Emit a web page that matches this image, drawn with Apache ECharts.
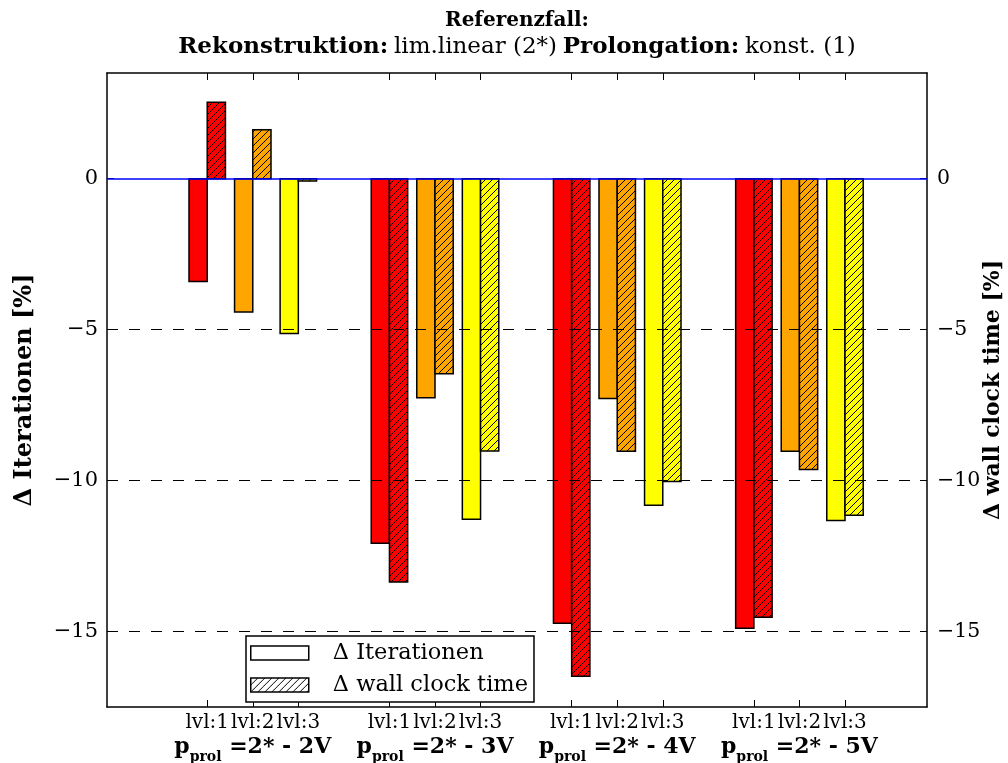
<!DOCTYPE html>
<html><head><meta charset="utf-8">
<script src="https://cdn.jsdelivr.net/npm/echarts@6/dist/echarts.min.js"></script>
<style>html,body{margin:0;padding:0;background:#fff}#c{width:1008px;height:763px}</style>
</head><body><div id="c"></div>
<script>
// ---- data ----
const groups = ['2V', '3V', '4V', '5V'];
const levels = ['lvl:1', 'lvl:2', 'lvl:3'];
const iterations = [
  [-3.41, -4.42, -5.13],
  [-12.08, -7.26, -11.28],
  [-14.73, -7.28, -10.82],
  [-14.89, -9.03, -11.32]
];
const wallclock = [
  [2.53, 1.62, -0.08],
  [-13.36, -6.46, -9.02],
  [-16.48, -9.03, -10.03],
  [-14.53, -9.63, -11.15]
];
const yTicks = [-15, -10, -5, 0];
const gridValues = [-15, -10, -5];

// ---- styles ----
const levelColors = ['#ff0000', '#ffa500', '#ffff00'];
const FONT = '"DejaVu Serif", "Liberation Serif", serif';
const FS = 21;
const BAR_W = 0.4;
const X0 = 2.2, GROUP_STEP = 4;

function hatch(bg) {
  const s = 7;
  const c = document.createElement('canvas');
  c.width = s; c.height = s;
  const g = c.getContext('2d');
  g.fillStyle = bg; g.fillRect(0, 0, s, s);
  g.strokeStyle = '#000'; g.lineWidth = 1;
  g.beginPath();
  g.moveTo(0, s); g.lineTo(s, 0);
  g.moveTo(-1, 1); g.lineTo(1, -1);
  g.moveTo(s - 1, s + 1); g.lineTo(s + 1, s - 1);
  g.stroke();
  return c;
}
const patterns = levelColors.map(c => ({ image: hatch(c), repeat: 'repeat' }));
const whitePattern = { image: hatch('#ffffff'), repeat: 'repeat' };

const tickPos = [], groupPos = [];
groups.forEach((g, gi) => {
  levels.forEach((l, li) => tickPos.push(+(X0 + GROUP_STEP * gi + li).toFixed(2)));
  groupPos.push(+(X0 + GROUP_STEP * gi + 1).toFixed(2));
});

const iterData = [], wallData = [];
groups.forEach((g, gi) => levels.forEach((l, li) => {
  const x = X0 + GROUP_STEP * gi + li;
  iterData.push([x, iterations[gi][li], li]);
  wallData.push([x, wallclock[gi][li], li]);
}));

function makeRender(isWall) {
  return function (params, api) {
    const x = api.value(0), y = api.value(1), lvl = api.value(2);
    const xa = isWall ? x : x - BAR_W, xb = isWall ? x + BAR_W : x;
    const p0 = api.coord([xa, 0]), p1 = api.coord([xb, y]);
    return {
      type: 'rect',
      shape: { x: p0[0], y: Math.min(p0[1], p1[1]), width: p1[0] - p0[0], height: Math.max(Math.abs(p1[1] - p0[1]), 1) },
      style: { fill: isWall ? patterns[lvl] : levelColors[lvl], stroke: '#000', lineWidth: 1.5 }
    };
  };
}

function minusFmt(v) { return String(v).replace('-', '\u2212'); }

function lvlLabel(v) {
  const i = Math.round(v - X0);
  const gi = Math.floor(i / GROUP_STEP), li = i % GROUP_STEP;
  if (gi < 0 || gi >= groups.length || li >= levels.length) return '';
  return levels[li];
}
function groupLabel(v) {
  const gi = Math.round((v - X0 - 1) / GROUP_STEP);
  if (gi < 0 || gi >= groups.length) return '';
  return '{p|p}{s|prol}{q| =2* - ' + groups[gi] + '}';
}

const axisLineStyle = { show: true, onZero: false, lineStyle: { color: '#000', width: 1.5 } };

const chart = echarts.init(document.getElementById('c'));
chart.setOption({
  animation: false,
  backgroundColor: '#fff',
  textStyle: { fontFamily: FONT },
  title: {
    left: 517, top: 7, textAlign: 'center', padding: 0,
    text: '{b|Referenzfall:}\n{b2|Rekonstruktion:} {r|lim.linear (2*)} {b2|Prolongation:} {r|konst. (1)}',
    textStyle: {
      fontWeight: 'normal',
      rich: {
        b: { fontFamily: FONT, fontSize: 20, fontWeight: 'bold', color: '#000', lineHeight: 27 },
        b2: { fontFamily: FONT, fontSize: 23, fontWeight: 'bold', color: '#000', lineHeight: 27 },
        r: { fontFamily: FONT, fontSize: 23, fontWeight: 'normal', color: '#000', lineHeight: 27 }
      }
    }
  },
  grid: { left: 107, right: 81, top: 73, bottom: 56, outerBoundsMode: 'none', containLabel: false },
  legend: {
    orient: 'vertical', left: 246, top: 636,
    icon: 'rect', itemWidth: 58, itemHeight: 14, itemGap: 6,
    padding: [4, 6, 4, 4],
    backgroundColor: '#fff', borderColor: '#000', borderWidth: 1.5,
    selectedMode: false,
    itemStyle: { borderColor: '#000', borderWidth: 1.5 },
    textStyle: { fontFamily: FONT, fontSize: 22.5, color: '#000', lineHeight: 26, padding: [0, 0, 0, 19] },
    data: ['\u0394 Iterationen', '\u0394 wall clock time']
  },
  xAxis: [{
    type: 'value', min: 0, max: 18, position: 'bottom',
    axisLine: axisLineStyle,
    axisTick: { show: true, inside: true, length: 7, customValues: tickPos, lineStyle: { color: '#000', width: 1 } },
    axisLabel: {
      show: true, customValues: tickPos, formatter: lvlLabel, margin: 4,
      showMinLabel: true, showMaxLabel: true, hideOverlap: false,
      fontFamily: FONT, fontSize: 20, color: '#000', lineHeight: 24
    },
    splitLine: { show: false }
  }, {
    type: 'value', min: 0, max: 18, position: 'top',
    axisLine: axisLineStyle,
    axisTick: { show: true, inside: true, length: 7, customValues: tickPos, lineStyle: { color: '#000', width: 1 } },
    axisLabel: { show: false },
    splitLine: { show: false }
  }, {
    type: 'value', min: 0, max: 18, position: 'bottom',
    axisLine: { show: false, onZero: false },
    axisTick: { show: false },
    axisLabel: {
      show: true, customValues: groupPos, formatter: groupLabel, margin: 29,
      showMinLabel: true, showMaxLabel: true, hideOverlap: false,
      rich: {
        p: { fontFamily: FONT, fontSize: 22, fontWeight: 'bold', color: '#000', lineHeight: 28, verticalAlign: 'top' },
        s: { fontFamily: FONT, fontSize: 14, fontWeight: 'bold', color: '#000', lineHeight: 16, verticalAlign: 'bottom' },
        q: { fontFamily: FONT, fontSize: 22, fontWeight: 'bold', color: '#000', lineHeight: 28, verticalAlign: 'top' }
      }
    },
    splitLine: { show: false }
  }],
  yAxis: [{
    type: 'value', min: -17.5, max: 3.5, position: 'left',
    name: '\u0394 Iterationen [%]', nameLocation: 'middle', nameGap: 70, nameMoveOverlap: false,
    nameTextStyle: { fontFamily: FONT, fontSize: 24, fontWeight: 'bold', color: '#000' },
    axisLine: axisLineStyle,
    axisTick: { show: true, inside: true, length: 7, customValues: yTicks, lineStyle: { color: '#000', width: 1 } },
    axisLabel: { show: true, customValues: yTicks, formatter: minusFmt, margin: 9, fontFamily: FONT, fontSize: FS, color: '#000', showMinLabel: true, showMaxLabel: true },
    splitLine: { show: false }
  }, {
    type: 'value', min: -17.5, max: 3.5, position: 'right',
    name: '\u0394 wall clock time [%]', nameLocation: 'middle', nameGap: 55, nameMoveOverlap: false,
    nameTextStyle: { fontFamily: FONT, fontSize: 22, fontWeight: 'bold', color: '#000' },
    axisLine: axisLineStyle,
    axisTick: { show: true, inside: true, length: 7, customValues: yTicks, lineStyle: { color: '#000', width: 1 } },
    axisLabel: { show: true, customValues: yTicks, formatter: minusFmt, margin: 10, fontFamily: FONT, fontSize: 20.5, color: '#000', showMinLabel: true, showMaxLabel: true },
    splitLine: { show: false }
  }],
  series: [{
    type: 'line', data: [], z: 1, silent: true,
    markLine: {
      silent: true, symbol: 'none', label: { show: false },
      data: gridValues.map(v => ({ yAxis: v, lineStyle: { color: '#000', type: [11, 11], width: 1 } }))
        .concat([{ yAxis: 0, lineStyle: { color: '#0000ff', type: 'solid', width: 1.5 } }])
    }
  }, {
    name: '\u0394 Iterationen', type: 'custom', z: 3, renderItem: makeRender(false),
    itemStyle: { color: '#ffffff', borderColor: '#000', borderWidth: 1.5 },
    encode: { x: 0, y: 1 }, data: iterData
  }, {
    name: '\u0394 wall clock time', type: 'custom', z: 3, renderItem: makeRender(true),
    itemStyle: { color: whitePattern, borderColor: '#000', borderWidth: 1.5 },
    encode: { x: 0, y: 1 }, data: wallData
  }]
});
</script></body></html>
